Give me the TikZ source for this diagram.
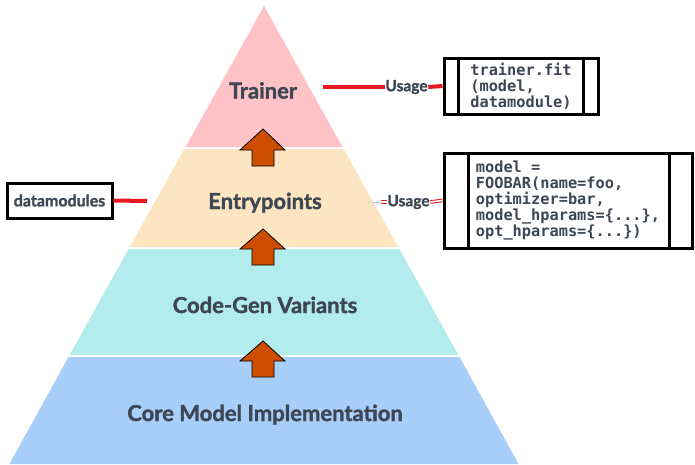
\documentclass[tikz,border=0pt]{standalone}
\usepackage{fontspec}
\setmainfont{Lato}[BoldFont={Lato Bold}, BoldFeatures={FakeBold=1.4}]
\setmonofont{DejaVu Sans Mono}
\usetikzlibrary{calc}
\definecolor{txt}{HTML}{3D4652}
\definecolor{tpink}{HTML}{FFC2C6}
\definecolor{tbeige}{HTML}{FDE5C2}
\definecolor{tcyan}{HTML}{B2ECEC}
\definecolor{tblue}{HTML}{A8CFFA}
\definecolor{arr}{HTML}{CC4E00}
\definecolor{lred}{HTML}{E8191E}
\tikzset{
  tier/.style={font=\fontsize{22}{26}\selectfont\bfseries, text=txt, text height=16pt, text depth=0pt, inner sep=0pt},
  uparrow/.style={fill=arr, draw=black, line width=0.8pt, line join=miter},
  usage/.style={font=\fontsize{15.5}{17}\selectfont\bfseries, text=txt, inner sep=0.5pt},
  codebox/.style={draw=black, line width=3pt, fill=white, font=\fontsize{15.3}{16}\selectfont\ttfamily\bfseries, text=txt, align=left, inner sep=0pt},
  redline/.style={draw=lred, line width=4pt},
  dblred/.style={draw=lred, double=white, double distance=1.6pt, line width=1pt},
  innerbar/.style={draw=black, line width=3pt},
}
\begin{document}
\begin{tikzpicture}[x=1pt,y=-1pt]
\useasboundingbox (0,0) rectangle (695,464);
\fill[white] (0,0) rectangle (695,464);
% tiers
\fill[tpink] (264,6) -- (342.5,147) -- (185.5,147) -- cycle;
\fill[tbeige] (184.3,149) -- (343.7,149) -- (398.2,247) -- (129.8,247) -- cycle;
\fill[tcyan] (128.6,249) -- (399.4,249) -- (458.4,355) -- (69.6,355) -- cycle;
\fill[tblue] (68.5,357) -- (459.5,357) -- (518.6,464) -- (9.4,464) -- cycle;
% labels
\node[tier] (trainer) at (263,90.5) {Trainer};
\node[tier] (entry) at (265,201) {Entrypoints};
\node[tier] (codegen) at (265,305) {Code-Gen Variants};
\node[tier] (core) at (265,413) {Core Model Implementation};
% arrows
\draw[uparrow] (263,129) -- (285,150) -- (274,150) -- (274,166) -- (252,166) -- (252,150) -- (240,150) -- cycle;
\draw[uparrow] (263,229) -- (285,249) -- (274,249) -- (274,265) -- (252,265) -- (252,249) -- (240,249) -- cycle;
\draw[uparrow] (263,341) -- (285,361) -- (274,361) -- (274,377) -- (252,377) -- (252,361) -- (240,361) -- cycle;
% boxes
\node[codebox, minimum width=154pt, minimum height=56pt] (box1) at (521,86) {trainer.fit\\(model,\\datamodule)};
\draw[innerbar] ($(box1.north west)+(16,0)$) -- ($(box1.south west)+(16,0)$);
\draw[innerbar] ($(box1.north east)+(-16,0)$) -- ($(box1.south east)+(-16,0)$);
\node[codebox, minimum width=248pt, minimum height=95pt] (box2) at (568,200.5) {model =\\FOOBAR(name=foo,\\optimizer=bar,\\model\_hparams=\{...\},\\opt\_hparams=\{...\})};
\draw[innerbar] ($(box2.north west)+(26,0)$) -- ($(box2.south west)+(26,0)$);
\draw[innerbar] ($(box2.north east)+(-24,0)$) -- ($(box2.south east)+(-24,0)$);
\node[draw=black, line width=3pt, minimum width=105pt, minimum height=35pt, inner sep=0pt, font=\fontsize{16}{18}\selectfont\bfseries, text=txt] (dm) at (59.5,200.5) {datamodules};
% usage labels and connectors
\node[usage] (use1) at (406.5,87) {Usage};
\node[usage] (use2) at (408.5,202) {Usage};
\coordinate (t1) at (323,87);
\coordinate (e1) at (147,201);
\coordinate (e2) at (381,202);
\coordinate (e3) at (373,202);
\draw[redline] (t1) -- (use1.west);
\draw[redline] (use1.east) -- (box1.west);
\draw[redline] (dm.east) -- (e1);
\draw[draw=gray!50, line width=1pt] (e3) -- (e2);
\draw[dblred] (e2) -- (use2.west);
\draw[dblred] (use2.east) -- (box2.west);
\end{tikzpicture}
\end{document}
